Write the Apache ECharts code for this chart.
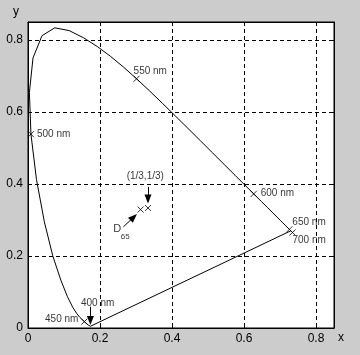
<!DOCTYPE html>
<html>
<head>
<meta charset="utf-8">
<script src="https://cdn.jsdelivr.net/npm/echarts@6/dist/echarts.min.js"></script>
<style>
  html, body { margin: 0; padding: 0; background: #cccccc; }
  #chart { width: 360px; height: 355px; }
</style>
</head>
<body>
<div id="chart"></div>
<script>
// CIE 1931 spectral locus, 400..700 nm in 5 nm steps
const locusX = [
  0.1733, 0.1730, 0.1726, 0.1721, 0.1714, 0.1703, 0.1689, 0.1669, 0.1644, 0.1611,
  0.1566, 0.1510, 0.1440, 0.1355, 0.1241, 0.1096, 0.0913, 0.0687, 0.0454, 0.0235,
  0.0082, 0.0039, 0.0139, 0.0389, 0.0743, 0.1142, 0.1547, 0.1929, 0.2296, 0.2658,
  0.3016, 0.3374, 0.3731, 0.4087, 0.4441, 0.4788, 0.5125, 0.5448, 0.5752, 0.6029,
  0.6270, 0.6482, 0.6658, 0.6801, 0.6915, 0.7006, 0.7079, 0.7140, 0.7190, 0.7230,
  0.7260, 0.7283, 0.7300, 0.7311, 0.7320, 0.7327, 0.7334, 0.7341, 0.7344, 0.7346,
  0.7347
];
const locusY = [
  0.0048, 0.0048, 0.0048, 0.0048, 0.0051, 0.0058, 0.0069, 0.0086, 0.0109, 0.0138,
  0.0177, 0.0227, 0.0297, 0.0399, 0.0578, 0.0868, 0.1327, 0.2007, 0.2950, 0.4127,
  0.5384, 0.6548, 0.7502, 0.8120, 0.8338, 0.8262, 0.8059, 0.7816, 0.7543, 0.7243,
  0.6923, 0.6589, 0.6245, 0.5896, 0.5547, 0.5202, 0.4866, 0.4544, 0.4242, 0.3965,
  0.3725, 0.3514, 0.3340, 0.3198, 0.3083, 0.2993, 0.2920, 0.2859, 0.2809, 0.2770,
  0.2740, 0.2717, 0.2700, 0.2689, 0.2680, 0.2673, 0.2666, 0.2660, 0.2656, 0.2654,
  0.2653
];

// marked wavelengths and white points
const markerNames = ["450 nm", "500 nm", "550 nm", "600 nm", "650 nm", "700 nm", "", ""];
const markerX = [0.1566, 0.0082, 0.3016, 0.6270, 0.7260, 0.7347, 0.3333, 0.3127];
const markerY = [0.0177, 0.5384, 0.6923, 0.3725, 0.2740, 0.2653, 0.3333, 0.3290];
const markerLabelOffset = [[-6, -2], [6, 0], [-3, -8], [7, -1], [3, -7], [0, 8], [0, 0], [0, 0]];

// annotation arrows: from -> to (data coords)
const arrowFrom = [[0.1733, 0.059], [0.3333, 0.392], [0.265, 0.281]];
const arrowTo = [[0.1733, 0.021], [0.3333, 0.358], [0.2936, 0.308]];

// free annotation texts (left edge, vertical middle)
const noteText = ["400 nm", "(1/3,1/3)", "D", "65"];
const noteX = [0.147, 0.274, 0.237, 0.2575];
const noteY = [0.070, 0.422, 0.275, 0.254];
const noteSize = [10, 10, 11, 8];

const xTicks = [0, 0.2, 0.4, 0.6, 0.8];
const FONT = "Liberation Sans";

const chart = echarts.init(document.getElementById("chart"), null, { renderer: "canvas" });

function tickFmt(v) {
  return v === 0 ? "0" : v.toFixed(1);
}

function makeAxis(pos, isMain) {
  return {
    type: "value",
    position: pos,
    min: 0,
    max: 0.85,
    interval: 0.2,
    axisLine: { show: true, onZero: false, lineStyle: { color: "#000", width: 1 } },
    axisTick: { show: true, inside: true, length: 4, lineStyle: { color: "#000" } },
    axisLabel: {
      show: isMain,
      showMaxLabel: false,
      margin: 5,
      color: "#000",
      fontFamily: FONT,
      fontSize: 12,
      formatter: tickFmt,
    },
    splitLine: {
      show: isMain,
      lineStyle: { color: "#000", type: [4, 3], width: 1 },
    },
  };
}

const locusData = locusX.map((x, i) => [x, locusY[i]]);
locusData.push([locusX[0], locusY[0]]); // purple line back to 400 nm

const markerData = markerX.map((x, i) => ({
  value: [x, markerY[i]],
  label: {
    show: markerNames[i] !== "",
    formatter: markerNames[i],
    position: "inside",
    align: markerLabelOffset[i][0] < 0 && i === 0 ? "right" : "left",
    verticalAlign: "middle",
    offset: markerLabelOffset[i],
  },
}));

const noteData = noteText.map((t, i) => ({
  value: [noteX[i], noteY[i]],
  label: { formatter: t, fontSize: noteSize[i] },
}));

const option = {
  animation: false,
  backgroundColor: "#cccccc",
  grid: {
    left: 28, top: 22, right: 26, bottom: 27,
    show: true,
    backgroundColor: "#ffffff",
    borderColor: "#000",
    borderWidth: 1,
  },
  xAxis: [makeAxis("bottom", true), makeAxis("top", false)],
  yAxis: [makeAxis("left", true), makeAxis("right", false)],
  graphic: [
    { type: "text", left: 338, top: 332, style: { text: "x", font: "12px " + FONT, fill: "#000" } },
    { type: "text", left: 13, top: 6, style: { text: "y", font: "12px " + FONT, fill: "#000" } },
  ],
  series: [
    {
      type: "line",
      data: locusData,
      showSymbol: false,
      symbol: "none",
      lineStyle: { color: "#000", width: 1 },
      silent: true,
    },
    {
      type: "scatter",
      data: markerData,
      symbol: "path://M0,0L10,10M10,0L0,10",
      symbolSize: 6,
      itemStyle: { color: "none", borderColor: "#000", borderWidth: 1 },
      label: { color: "#000", fontFamily: FONT, fontSize: 10 },
      silent: true,
    },
    {
      type: "scatter",
      data: noteData,
      symbolSize: 0,
      label: {
        show: true,
        position: "inside",
        align: "left",
        verticalAlign: "middle",
        color: "#000",
        fontFamily: FONT,
      },
      silent: true,
    },
    {
      type: "line",
      data: [],
      markLine: {
        silent: true,
        symbol: ["none", "triangle"],
        symbolSize: [7, 9],
        label: { show: false },
        lineStyle: { color: "#000", type: "solid", width: 1 },
        data: arrowFrom.map((f, i) => [{ coord: f }, { coord: arrowTo[i] }]),
      },
    },
  ],
};

chart.setOption(option);
</script>
</body>
</html>
